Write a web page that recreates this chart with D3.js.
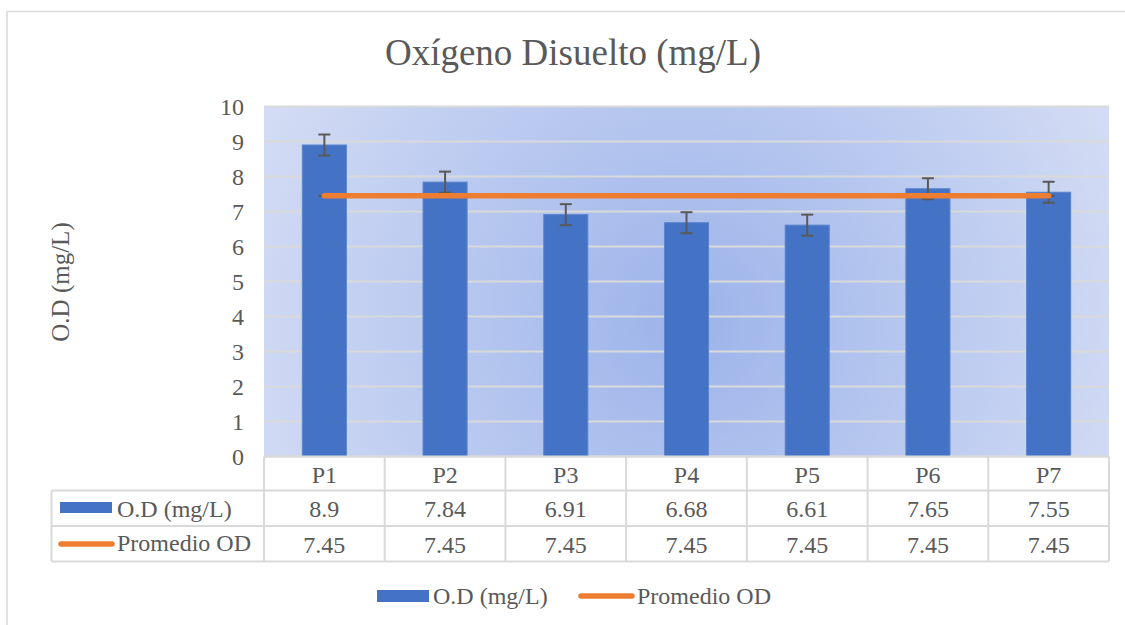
<!DOCTYPE html>
<html><head><meta charset="utf-8">
<script src="https://cdn.jsdelivr.net/npm/d3@7"></script>
<style>body{margin:0;background:#fff}svg{display:block}</style>
</head><body><svg id="c" width="1125" height="625"></svg>
<script>
const categories = ["P1","P2","P3","P4","P5","P6","P7"];
const odValues = [8.9, 7.84, 6.91, 6.68, 6.61, 7.65, 7.55];
const promedio = [7.45, 7.45, 7.45, 7.45, 7.45, 7.45, 7.45];
const errorAmount = [0.3, 0.3, 0.3, 0.3, 0.3, 0.3, 0.3];
const yTicks = [0,1,2,3,4,5,6,7,8,9,10];
const seriesNames = ["O.D (mg/L)", "Promedio OD"];
const title = "Oxígeno Disuelto (mg/L)";
const yTitle = "O.D (mg/L)";

const svg = d3.select("#c");
const L = 264, R = 1109, T = 106.5, B = 456.5;
const x = d3.scaleBand().domain(categories).range([L, R]).paddingInner(0.635).paddingOuter(0.3175);
const xc = d3.scaleBand().domain(categories).range([L, R]);
const y = d3.scaleLinear().domain([0, 10]).range([B, T]);
const blue = "#4472C4", orange = "#ED7D31", grid = "#d9d9d9", dark = "#595959";
const FS = 24;

// outer border
svg.append("rect").attr("x",7).attr("y",11.5).attr("width",1130).attr("height",640).attr("fill","#fff").attr("stroke","#d9d9d9").attr("stroke-width",1.5);

// background gradient
const defs = svg.append("defs");
const rg = defs.append("radialGradient").attr("id","bg").attr("gradientUnits","userSpaceOnUse")
  .attr("cx",(L+R)/2).attr("cy",(T+B)/2+40).attr("r",560);
rg.append("stop").attr("offset","0%").attr("stop-color","#9cb3ea");
rg.append("stop").attr("offset","100%").attr("stop-color","#dee4f6");
svg.append("rect").attr("x",L).attr("y",T).attr("width",R-L).attr("height",B-T).attr("fill","url(#bg)");

// gridlines
svg.append("g").selectAll("line").data(yTicks).join("line")
  .attr("x1",L).attr("x2",R).attr("y1",d=>y(d)).attr("y2",d=>y(d))
  .attr("stroke",grid).attr("stroke-width",2);

const txt = (g) => g.attr("fill",dark).attr("font-family","'Liberation Serif','Times New Roman',serif");

// title
txt(svg.append("text")).attr("x",573).attr("y",65).attr("text-anchor","middle").attr("font-size",37).text(title);

// y tick labels
txt(svg.append("g")).selectAll("text").data(yTicks).join("text")
  .attr("x",244).attr("y",d=>y(d)+8.5).attr("text-anchor","end").attr("font-size",FS).text(d=>d);

// y title
txt(svg.append("text")).attr("transform","translate(69,282) rotate(-90)").attr("text-anchor","middle").attr("font-size",25).text(yTitle);

// bars
svg.append("g").selectAll("rect").data(odValues).join("rect")
  .attr("x",(d,i)=>x(categories[i])).attr("width",x.bandwidth())
  .attr("y",d=>y(d)).attr("height",d=>B-y(d))
  .attr("fill",blue).attr("stroke","#5b84cc").attr("stroke-width",1);

// error bars for bars
const eb = svg.append("g").attr("stroke",dark).attr("stroke-width",2);
odValues.forEach((v,i)=>{
  const cx = xc(categories[i]) + xc.bandwidth()/2;
  const e = errorAmount[i];
  eb.append("line").attr("x1",cx).attr("x2",cx).attr("y1",y(v+e)).attr("y2",y(v-e));
  eb.append("line").attr("x1",cx-6).attr("x2",cx+6).attr("y1",y(v+e)).attr("y2",y(v+e));
  eb.append("line").attr("x1",cx-6).attr("x2",cx+6).attr("y1",y(v-e)).attr("y2",y(v-e));
});

// small markers under line ends
const lineG = svg.append("g");
promedio.forEach((v,i)=>{
  const cx = xc(categories[i]) + xc.bandwidth()/2;
  lineG.append("line").attr("x1",cx-6).attr("x2",cx+6).attr("y1",y(v)).attr("y2",y(v)).attr("stroke",dark).attr("stroke-width",2);
});
// average line
const line = d3.line().x((d,i)=>xc(categories[i])+xc.bandwidth()/2).y(d=>y(d));
lineG.append("path").datum(promedio).attr("d",line).attr("fill","none").attr("stroke",orange).attr("stroke-width",5.5).attr("stroke-linecap","round");

// data table
const tL = 51.5, rows = [B, 490.5, 526, 561.5];
const tg = svg.append("g").attr("stroke",grid).attr("stroke-width",2);
tg.append("line").attr("x1",L).attr("x2",R).attr("y1",B).attr("y2",B);
[1,2,3].forEach(k=>tg.append("line").attr("x1",tL).attr("x2",R).attr("y1",rows[k]).attr("y2",rows[k]));
tg.append("line").attr("x1",tL).attr("x2",tL).attr("y1",rows[1]).attr("y2",rows[3]);
categories.forEach((c,i)=>{
  tg.append("line").attr("x1",xc(c)).attr("x2",xc(c)).attr("y1",B).attr("y2",rows[3]);
});
tg.append("line").attr("x1",R).attr("x2",R).attr("y1",B).attr("y2",rows[3]);

const cellText = (row, vals) => txt(svg.append("g")).selectAll("text").data(vals).join("text")
  .attr("x",(d,i)=>xc(categories[i])+xc.bandwidth()/2).attr("y",(rows[row]+rows[row+1])/2+9)
  .attr("text-anchor","middle").attr("font-size",FS).text(d=>d);
cellText(0, categories);
cellText(1, odValues);
cellText(2, promedio);

// row labels
svg.append("rect").attr("x",60).attr("y",502).attr("width",52).attr("height",11).attr("fill",blue);
txt(svg.append("text")).attr("x",117).attr("y",517).attr("font-size",FS).text(seriesNames[0]);
svg.append("line").attr("x1",61).attr("x2",112).attr("y1",544).attr("y2",544).attr("stroke",orange).attr("stroke-width",5.5).attr("stroke-linecap","round");
txt(svg.append("text")).attr("x",117).attr("y",551).attr("font-size",FS).text(seriesNames[1]);

// legend
svg.append("rect").attr("x",377).attr("y",590).attr("width",52).attr("height",12).attr("fill",blue);
txt(svg.append("text")).attr("x",433).attr("y",604).attr("font-size",FS).text(seriesNames[0]);
svg.append("line").attr("x1",581).attr("x2",632).attr("y1",596).attr("y2",596).attr("stroke",orange).attr("stroke-width",5.5).attr("stroke-linecap","round");
txt(svg.append("text")).attr("x",637).attr("y",604).attr("font-size",FS).text(seriesNames[1]);
</script></body></html>
